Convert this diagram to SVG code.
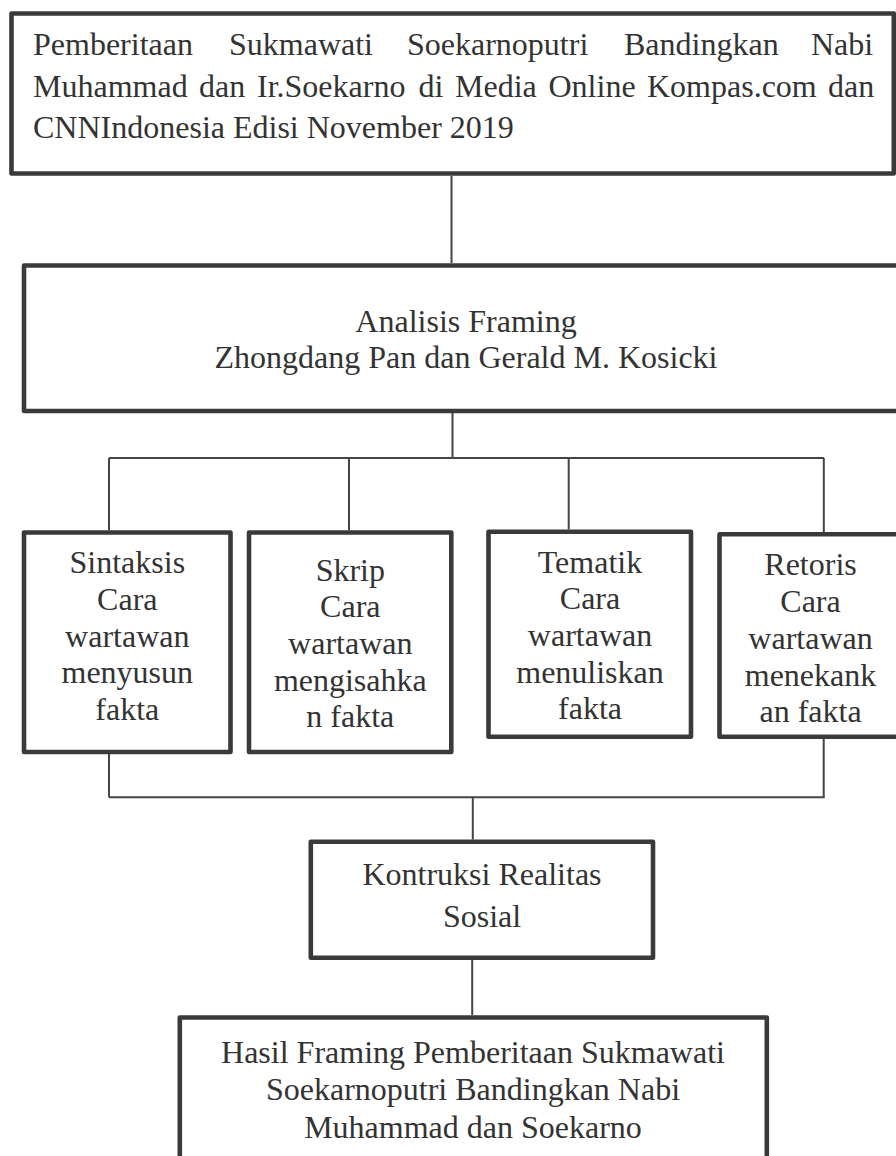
<svg xmlns="http://www.w3.org/2000/svg" width="896" height="1156" viewBox="0 0 896 1156">
<style>
.box{fill:#ffffff;stroke:#3a3a3a;stroke-width:4.6;stroke-linejoin:round}
.con{fill:none;stroke:#444444;stroke-width:2}
.t{font-family:"Liberation Serif","Times New Roman",serif;font-size:32px;fill:#333333}
.c{text-anchor:middle}
</style>
<rect x="0" y="0" width="896" height="1156" fill="#ffffff"/>
<g id="connectors">
<path class="con" d="M451.5 176V263"/>
<path class="con" d="M452.5 413V458"/>
<path class="con" d="M109 458H824"/>
<path class="con" d="M109 458V530"/>
<path class="con" d="M349 458V530"/>
<path class="con" d="M568.7 458V529.5"/>
<path class="con" d="M823.8 458V532"/>
<path class="con" d="M109 754V797.3"/>
<path class="con" d="M823.7 739V797.3"/>
<path class="con" d="M109 797.3H824.7"/>
<path class="con" d="M472.8 797.3V839.5"/>
<path class="con" d="M472.2 960V1015"/>
</g>
<g id="node-berita">
<rect class="box" x="11.5" y="13.5" width="882.3" height="160"/>
<text class="t" y="55"><tspan x="33">Pemberitaan</tspan><tspan x="229">Sukmawati</tspan><tspan x="407">Soekarnoputri</tspan><tspan x="624">Bandingkan</tspan><tspan x="811">Nabi</tspan></text>
<text class="t" y="97"><tspan x="33">Muhammad</tspan><tspan x="199">dan</tspan><tspan x="257">Ir.Soekarno</tspan><tspan x="418.5">di</tspan><tspan x="455">Media</tspan><tspan x="548.5">Online</tspan><tspan x="647">Kompas.com</tspan><tspan x="828">dan</tspan></text>
<text class="t" x="33" y="138">CNNIndonesia Edisi November 2019</text>
</g>
<g id="node-analisis">
<rect class="box" x="24" y="265.5" width="890" height="145.5"/>
<text class="t c" x="466" y="331.7">Analisis Framing</text>
<text class="t c" x="466" y="368.3">Zhongdang Pan dan Gerald M. Kosicki</text>
</g>
<g id="node-sintaksis">
<rect class="box" x="24" y="532.5" width="206.5" height="219.5"/>
<text class="t c" x="127.3" y="573.3">Sintaksis</text>
<text class="t c" x="127.3" y="610">Cara</text>
<text class="t c" x="127.3" y="646.5">wartawan</text>
<text class="t c" x="127.3" y="683.3">menyusun</text>
<text class="t c" x="127.3" y="720">fakta</text>
</g>
<g id="node-skrip">
<rect class="box" x="249" y="532.5" width="202.3" height="219.5"/>
<text class="t c" x="350.3" y="580.7">Skrip</text>
<text class="t c" x="350.3" y="617.3">Cara</text>
<text class="t c" x="350.3" y="654">wartawan</text>
<text class="t c" x="350.3" y="690.5">mengisahka</text>
<text class="t c" x="350.3" y="727.3">n fakta</text>
</g>
<g id="node-tematik">
<rect class="box" x="488.5" y="531.8" width="202.5" height="205"/>
<text class="t c" x="590" y="572.7">Tematik</text>
<text class="t c" x="590" y="609.3">Cara</text>
<text class="t c" x="590" y="646">wartawan</text>
<text class="t c" x="590" y="682.7">menuliskan</text>
<text class="t c" x="590" y="719.3">fakta</text>
</g>
<g id="node-retoris">
<rect class="box" x="719.5" y="534.2" width="182" height="202.5"/>
<text class="t c" x="810.5" y="575">Retoris</text>
<text class="t c" x="810.5" y="612">Cara</text>
<text class="t c" x="810.5" y="649">wartawan</text>
<text class="t c" x="810.5" y="685.7">menekank</text>
<text class="t c" x="810.5" y="721.7">an fakta</text>
</g>
<g id="node-kontruksi">
<rect class="box" x="310.8" y="841.7" width="342.2" height="116"/>
<text class="t c" x="482" y="884.5">Kontruksi Realitas</text>
<text class="t c" x="482" y="926.7">Sosial</text>
</g>
<g id="node-hasil">
<rect class="box" x="179.8" y="1017.5" width="587" height="200"/>
<text class="t c" x="473" y="1062.5">Hasil Framing Pemberitaan Sukmawati</text>
<text class="t c" x="473" y="1100.3">Soekarnoputri Bandingkan Nabi</text>
<text class="t c" x="473" y="1137.5">Muhammad dan Soekarno</text>
</g>
</svg>
